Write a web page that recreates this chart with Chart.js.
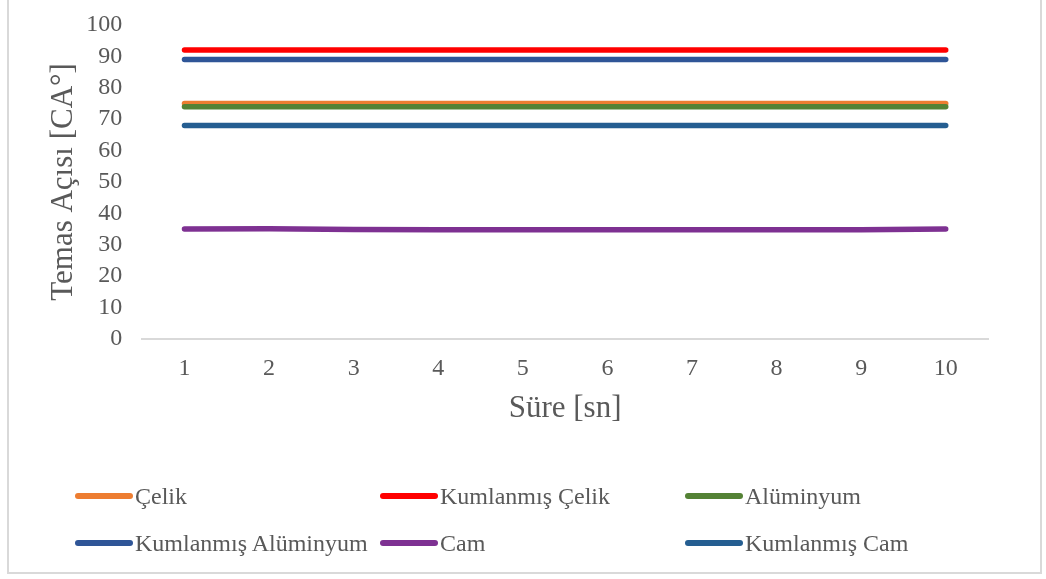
<!DOCTYPE html>
<html>
<head>
<meta charset="utf-8">
<script src="https://cdn.jsdelivr.net/npm/chart.js@4/dist/chart.umd.min.js"></script>
<style>
  body { margin: 0; background: #fff; }
  #wrap { position: relative; width: 1046px; height: 579px; overflow: hidden; }
  #frame { position: absolute; left: 7px; top: -3px; width: 1031px; height: 573px; border: 2px solid #d9d9d9; }
  canvas { position: absolute; left: 0; top: 0; }
  .lg { position: absolute; font-family: "Liberation Serif", "Times New Roman", serif; font-size: 24px; color: #595959; white-space: nowrap; line-height: 28px; }
  .lg span { display: inline-block; width: 58px; height: 6px; border-radius: 3px; vertical-align: middle; margin-right: 2px; position: relative; top: -2px; }
</style>
</head>
<body>
<div id="wrap">
  <div id="frame"></div>
  <canvas id="chart" width="1046" height="579"></canvas>
  <div id="legend"></div>
</div>
<script>
const categories = ["1", "2", "3", "4", "5", "6", "7", "8", "9", "10"];
const celik = [75, 75, 75, 75, 75, 75, 75, 75, 75, 75];
const kumlanmisCelik = [92, 92, 92, 92, 92, 92, 92, 92, 92, 92];
const aluminyum = [74, 74, 74, 74, 74, 74, 74, 74, 74, 74];
const kumlanmisAluminyum = [89, 89, 89, 89, 89, 89, 89, 89, 89, 89];
const cam = [35, 35.1, 34.9, 34.8, 34.8, 34.8, 34.8, 34.8, 34.8, 35];
const kumlanmisCam = [68, 68, 68, 68, 68, 68, 68, 68, 68, 68];

const names = ["Çelik", "Kumlanmış Çelik", "Alüminyum", "Kumlanmış Alüminyum", "Cam", "Kumlanmış Cam"];
const colors = ["#ED7D31", "#FF0000", "#548235", "#2F5597", "#7E3192", "#255E91"];
const series = [celik, kumlanmisCelik, aluminyum, kumlanmisAluminyum, cam, kumlanmisCam];

const font = "'Liberation Serif', 'Times New Roman', serif";

const datasets = series.map((s, i) => ({
  label: names[i],
  data: s,
  borderColor: colors[i],
  backgroundColor: colors[i],
  borderWidth: 5.5,
  borderCapStyle: "round",
  pointRadius: 0,
  fill: false,
  tension: 0,
  order: i === 0 ? 10 : i
}));

new Chart(document.getElementById("chart"), {
  type: "line",
  data: { labels: categories, datasets: datasets },
  options: {
    responsive: false,
    animation: false,
    layout: { padding: { left: 45, right: 58, top: 25, bottom: 152 } },
    plugins: {
      legend: { display: false },
      tooltip: { enabled: false }
    },
    scales: {
      x: {
        offset: true,
        grid: { display: false, drawTicks: true, tickLength: 11 },
        border: { display: true, color: "#d9d9d9", width: 2 },
        ticks: { color: "#595959", font: { family: font, size: 24 }, padding: 4 },
        title: {
          display: true, text: "Süre [sn]", color: "#595959",
          font: { family: font, size: 31 }, padding: { top: 3, bottom: 0 }
        }
      },
      y: {
        min: 0, max: 100,
        grid: { display: false, drawTicks: true, tickLength: 16 },
        border: { display: false },
        ticks: { stepSize: 10, autoSkip: false, color: "#595959", font: { family: font, size: 24 }, padding: 4 },
        title: {
          display: true, text: "Temas Açısı [CA°]", color: "#595959",
          font: { family: font, size: 31 }, padding: { top: 0, bottom: 0 }
        }
      }
    }
  }
});

// legend in three fixed columns like the original
const colX = [75, 380, 685];
const rowY = [482, 529];
const legend = document.getElementById("legend");
names.forEach((n, i) => {
  const d = document.createElement("div");
  d.className = "lg";
  d.style.left = colX[i % 3] + "px";
  d.style.top = rowY[Math.floor(i / 3)] + "px";
  d.innerHTML = '<span style="background:' + colors[i] + '"></span>' + n;
  legend.appendChild(d);
});
</script>
</body>
</html>
